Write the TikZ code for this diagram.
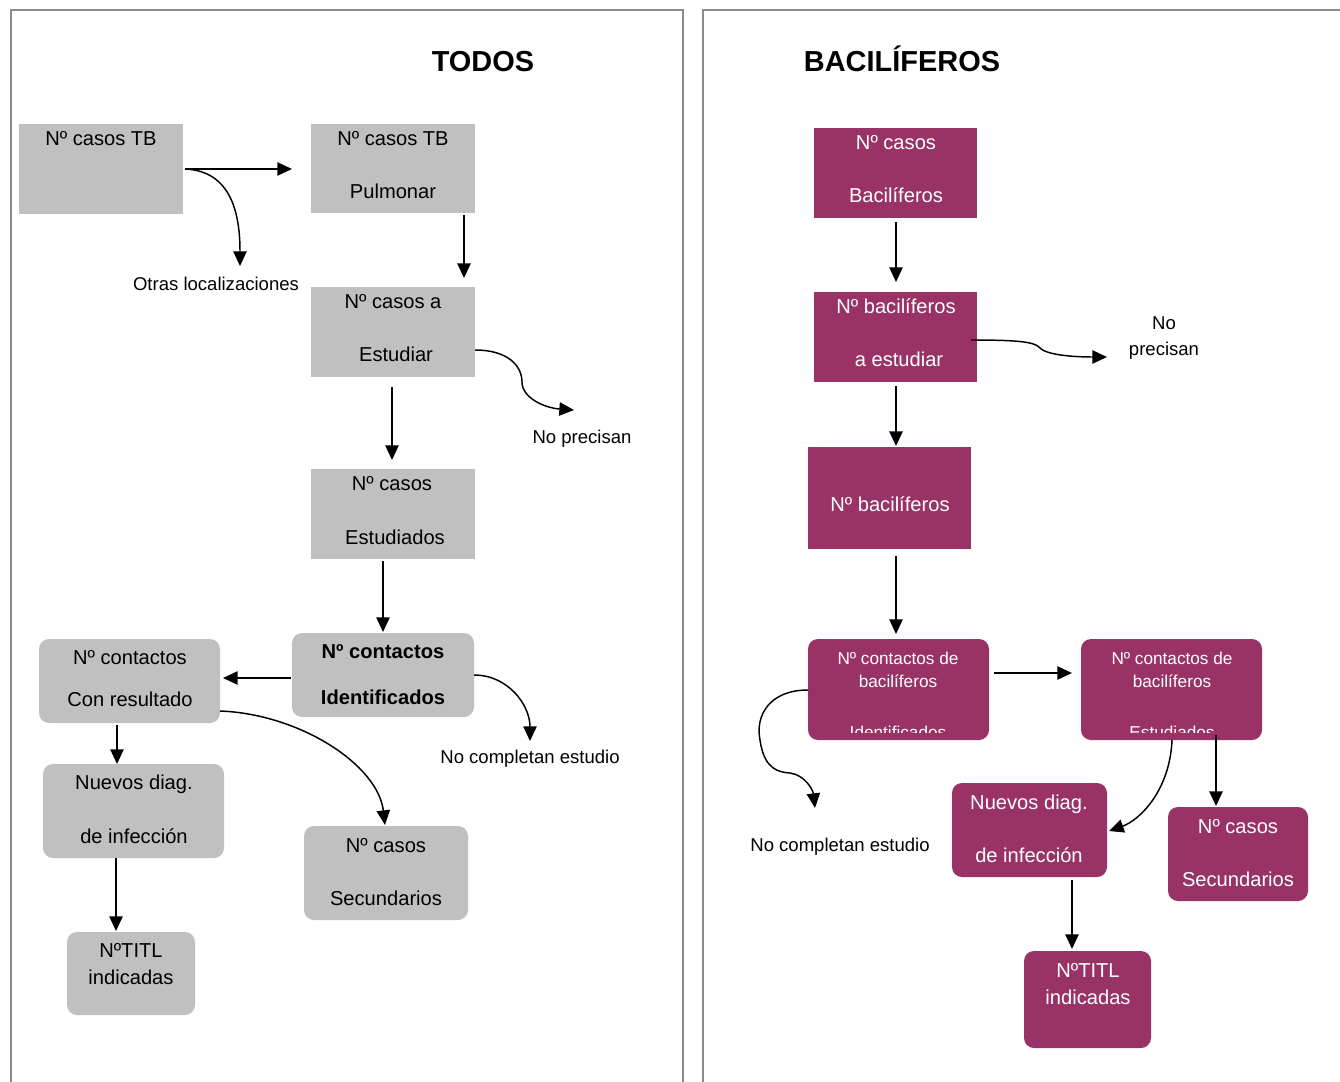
\documentclass[tikz,border=0pt]{standalone}
\usepackage{fontspec}
\setmainfont{Liberation Sans}
\usetikzlibrary{arrows.meta,calc}
\definecolor{tbgray}{HTML}{C0C0C0}
\definecolor{tbmag}{HTML}{993366}
\definecolor{panelline}{HTML}{8C8C8C}
\newcommand\bx[6]{\node[#6, minimum width={(#4-#2)*0.75pt}, minimum height={(#5-#3)*0.75pt}] (#1) at ({(#2+#4)/2},{(#3+#5)/2}) {};}
\begin{document}
\begin{tikzpicture}[x=0.75pt,y=-0.75pt,
  gbox/.style={rectangle, fill=tbgray, draw=none, inner sep=0pt, outer sep=0pt},
  grbox/.style={gbox, rounded corners=7.5pt},
  mbox/.style={rectangle, fill=tbmag, draw=none, inner sep=0pt, outer sep=0pt},
  mrbox/.style={mbox, rounded corners=7.5pt},
  lbl/.style={anchor=base, inner sep=0pt, font=\fontsize{13.9}{16}\selectfont},
  txt/.style={anchor=base, inner sep=0pt, font=\fontsize{15.1}{17}\selectfont},
  btxt/.style={txt, font=\fontsize{15.1}{17}\selectfont\bfseries},
  wtxt/.style={txt, text=white},
  stxt/.style={anchor=base, inner sep=0pt, text=white, font=\fontsize{12.9}{15}\selectfont},
  ttl/.style={anchor=base, inner sep=0pt, font=\fontsize{21.7}{24}\selectfont\bfseries},
  arr/.style={-{Triangle[length=11pt,width=10pt]}, line width=1.1pt},
  panel/.style={draw=panelline, line width=1.5pt}]
\useasboundingbox (0,0) rectangle (1340,1082);
% panels
\draw[panel] (11,1090) -- (11,10) -- (683,10) -- (683,1090);
\draw[panel] (703,1090) -- (703,10) -- (1350,10);
% titles
\node[ttl] (t1) at (483,71) {TODOS};
\node[ttl] (t2) at (902,71) {BACILÍFEROS};
% left boxes
\bx{A}{19}{124}{183}{214}{gbox}
\bx{B}{311}{124}{475}{213}{gbox}
\bx{C}{311}{287}{475}{377}{gbox}
\bx{D}{311}{469}{475}{559}{gbox}
\bx{E}{292}{633}{474}{717}{grbox}
\bx{F}{39}{639}{220}{723}{grbox}
\bx{G}{43}{764}{224}{858}{grbox}
\bx{H}{67}{932}{195}{1015}{grbox}
\bx{I}{304}{826}{468}{920}{grbox}
% left texts
\node[txt] (tA1) at (101,145) {Nº casos TB};
\node[txt] (tB1) at (393,145) {Nº casos TB};
\node[txt] (tB2) at (393,198) {Pulmonar};
\node[txt] (tC1) at (393,308) {Nº casos a};
\node[txt] (tC2) at (396,361) {Estudiar};
\node[txt] (tD1) at (392,490) {Nº casos};
\node[txt] (tD2) at (395,544) {Estudiados};
\node[btxt] (tE1) at (383,658) {Nº contactos};
\node[btxt] (tE2) at (383,704) {Identificados};
\node[txt] (tF1) at (130,664) {Nº contactos};
\node[txt] (tF2) at (130,706) {Con resultado};
\node[txt] (tG1) at (134,789) {Nuevos diag.};
\node[txt] (tG2) at (134,843) {de infección};
\node[txt] (tH1) at (131,957) {NºTITL};
\node[txt] (tH2) at (131,984) {indicadas};
\node[txt] (tI1) at (386,852) {Nº casos};
\node[txt] (tI2) at (386,905) {Secundarios};
% left labels
\node[lbl] (lOtras) at (216,290) {Otras localizaciones};
\node[lbl] (lNoP) at (582,443) {No precisan};
\node[lbl] (lNoC) at (530,763) {No completan estudio};
\coordinate (eOtras) at (240,266);
\coordinate (eNoP) at (574,410);
\coordinate (eNoC) at (530,741);
% left connectors
\draw[arr] ($(A.east)+(2,0)$) -- ($(B.west)+(-19,0.5)$);
\draw[arr] ($(A.east)+(2,0)$) .. controls (232,171) and (240,215) .. (eOtras);
\draw[arr] ($(B.south east)+(-11,2)$) -- ($(C.north east)+(-11,-9)$);
\draw[arr] ($(C.east)+(0,18)$) .. controls (508,350) and (522,366) .. (522,382)
  .. controls (522,398) and (545,408) .. (eNoP);
\draw[arr] ($(C.south)+(-1,10)$) -- ($(D.north)+(-1,-9)$);
\draw[arr] ($(D.south)+(-10,2)$) -- ($(E.north)+(0,-1)$);
\draw[arr] ($(E.west)+(-1,3)$) -- ($(F.east)+(3,-3)$);
\draw[arr] ($(E.east)+(0,0)$) .. controls (508,675) and (530,705) .. (eNoC);
\draw[arr] ($(F.south west)+(78,2)$) -- ($(G.north west)+(74,0)$);
\draw[arr] ($(F.east)+(0,30)$) .. controls (300,714) and (378,765) .. ($(I.north)+(-1,-1)$);
\draw[arr] ($(G.south west)+(73,0)$) -- ($(H.north west)+(49,-1)$);
% right boxes
\bx{R1}{814}{128}{977}{218}{mbox}
\bx{R2}{814}{292}{977}{382}{mbox}
\bx{R3}{808}{447}{971}{549}{mbox}
\bx{R4}{808}{639}{989}{740}{mrbox}
\bx{R5}{1081}{639}{1262}{740}{mrbox}
\bx{R6}{952}{783}{1107}{877}{mrbox}
\bx{R7}{1168}{807}{1308}{901}{mrbox}
\bx{R8}{1024}{951}{1151}{1048}{mrbox}
% right texts
\node[wtxt] (tR1a) at (896,149) {Nº casos};
\node[wtxt] (tR1b) at (896,202) {Bacilíferos};
\node[wtxt] (tR2a) at (896,313) {Nº bacilíferos};
\node[wtxt] (tR2b) at (899,366) {a estudiar};
\node[wtxt] (tR3a) at (890,511) {Nº bacilíferos};
\node[stxt] (tR4a) at (898,664) {Nº contactos de};
\node[stxt] (tR4b) at (898,687) {bacilíferos};
\node[stxt] (tR5a) at (1172,664) {Nº contactos de};
\node[stxt] (tR5b) at (1172,687) {bacilíferos};
\begin{scope}
\clip (800,700) rectangle (1270,732);
\node[stxt] (tR4c) at (898,738) {Identificados};
\node[stxt] (tR5c) at (1172,738) {Estudiados};
\end{scope}
\node[wtxt] (tR6a) at (1029,809) {Nuevos diag.};
\node[wtxt] (tR6b) at (1029,862) {de infección};
\node[wtxt] (tR7a) at (1238,833) {Nº casos};
\node[wtxt] (tR7b) at (1238,886) {Secundarios};
\node[wtxt] (tR8a) at (1088,977) {NºTITL};
\node[wtxt] (tR8b) at (1088,1004) {indicadas};
% right labels
\node[lbl] (lRNo) at (1164,329) {No};
\node[lbl] (lRPre) at (1164,355) {precisan};
\node[lbl] (lRNoC) at (840,851) {No completan estudio};
\coordinate (eRNoP) at (1107,357);
\coordinate (eRNoC) at (815,808);
% right connectors
\draw[arr] ($(R1.south)+(0.5,4)$) -- ($(R2.north)+(0.5,-10)$);
\draw[arr] ($(R2.east)+(-6,3)$) .. controls (1020,340) and (1035,342) .. (1040,348)
  .. controls (1048,356) and (1080,357) .. (eRNoP);
\draw[arr] ($(R2.south)+(0.5,4)$) -- ($(R3.north)+(6.5,-1)$);
\draw[arr] ($(R3.south)+(6.5,7)$) -- ($(R4.north)+(-2.5,-5)$);
\draw[arr] ($(R4.east)+(5,-16.5)$) -- ($(R5.west)+(-9,-16.5)$);
\draw[arr] ($(R4.west)+(0,0.5)$) .. controls (770,690) and (755,715) .. (760,740)
  .. controls (763,760) and (770,772) .. (790,773)
  .. controls (805,775) and (813,790) .. (eRNoC);
\draw[arr] ($(R5.south)+(0.5,0)$) .. controls (1170,790) and (1140,820) .. ($(R6.east)+(2,1)$);
\draw[arr] ($(R5.south)+(44.5,-5)$) -- ($(R7.north)+(-22,-1)$);
\draw[arr] ($(R6.south)+(42.5,3)$) -- ($(R8.north)+(-15.5,-2)$);
\end{tikzpicture}
\end{document}
